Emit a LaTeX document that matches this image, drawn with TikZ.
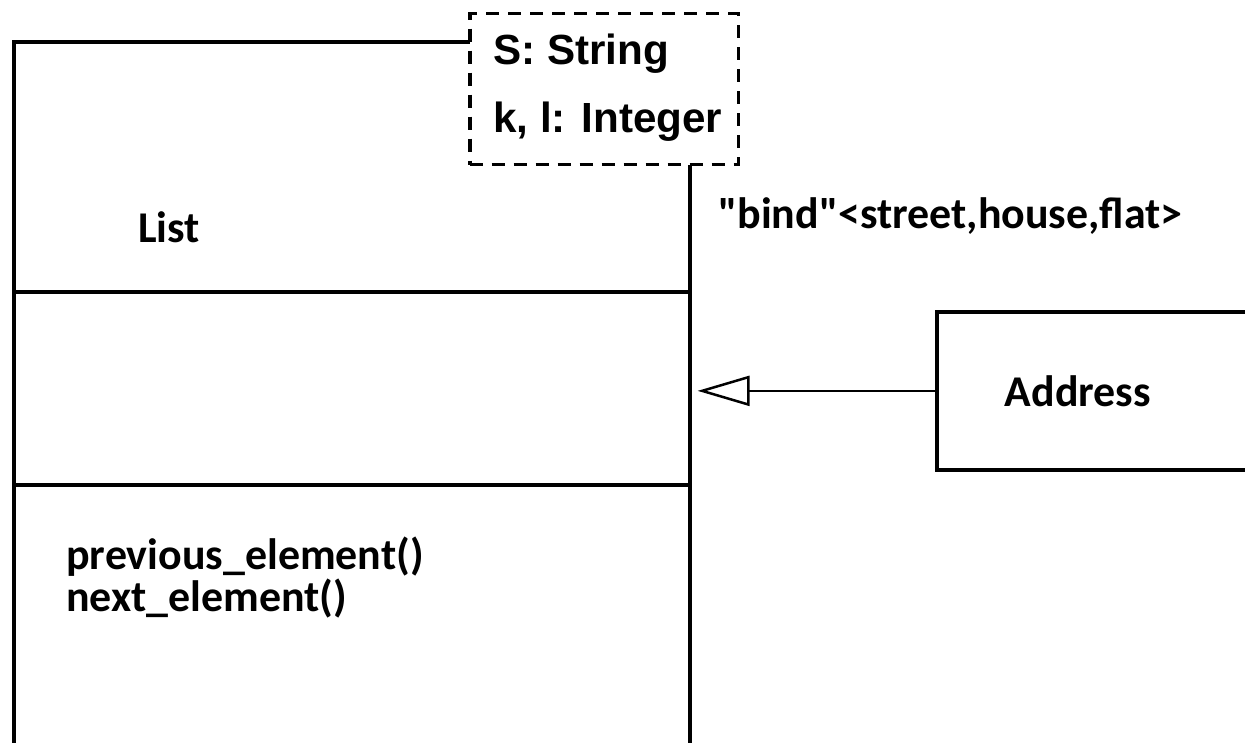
\documentclass[tikz,border=0pt]{standalone}
\usepackage{fontspec}
\setmainfont{Carlito}
\newfontfamily\pixfont{Liberation Sans}
\usetikzlibrary{positioning,arrows.meta}

\begin{document}
\begin{tikzpicture}[
  x=0.02cm, y=-0.02cm,
  cls/.style={draw, rectangle, line width=0.075cm, inner sep=0pt},
  divider/.style={line width=0.075cm},
  params/.style={draw, rectangle, line width=0.07cm, dash pattern=on 0.26cm off 0.18cm, fill=white, minimum width=5.38cm, minimum height=3.02cm},
  lbl/.style={font=\fontsize{25pt}{25pt}\selectfont\bfseries, inner sep=0pt},
  plbl/.style={font=\pixfont\fontsize{24pt}{24pt}\selectfont\bfseries, inner sep=0pt},
  realize/.style={-{Triangle[open, length=1.04cm, width=0.6cm]}, line width=0.05cm, shorten >=0.12cm}
]
\useasboundingbox (0,0) rectangle (1245,743);
\clip (0,0) rectangle (1245,743);

% class List
\node[cls, anchor=north west, minimum width=13.52cm, minimum height=16cm] (list) at (12,40) {};
\draw[divider] (list.west |- 0,292) -- (list.east |- 0,292);
\draw[divider] (list.west |- 0,485) -- (list.east |- 0,485);
\node[lbl, anchor=base west] (listname) at (138,243) {List};
\node[lbl, anchor=base west] (prevop) at (66,569) {previous\_element()};
\node[lbl, anchor=base west] (nextop) at (66,611) {next\_element()};

% template parameters
\node[params, anchor=north west] (tparams) at (468,12) {};
\node[plbl, anchor=base west] (sparam) at (493,65) {S: String};
\node[plbl, anchor=base west] (kparam) at (493,133) {k, l: Integer};

% class Address
\node[cls, anchor=north west, minimum height=3.16cm, text width=5cm, inner xsep=1.36cm, align=left, font=\fontsize{25pt}{25pt}\selectfont\bfseries] (addr) at (935,310) {Address};
\node[lbl, anchor=base west] (bind) at (718,229) {\textquotedbl bind\textquotedbl<street,house,flat>};

\draw[realize] (addr.west) -- (addr.west -| list.east);
\end{tikzpicture}
\end{document}
